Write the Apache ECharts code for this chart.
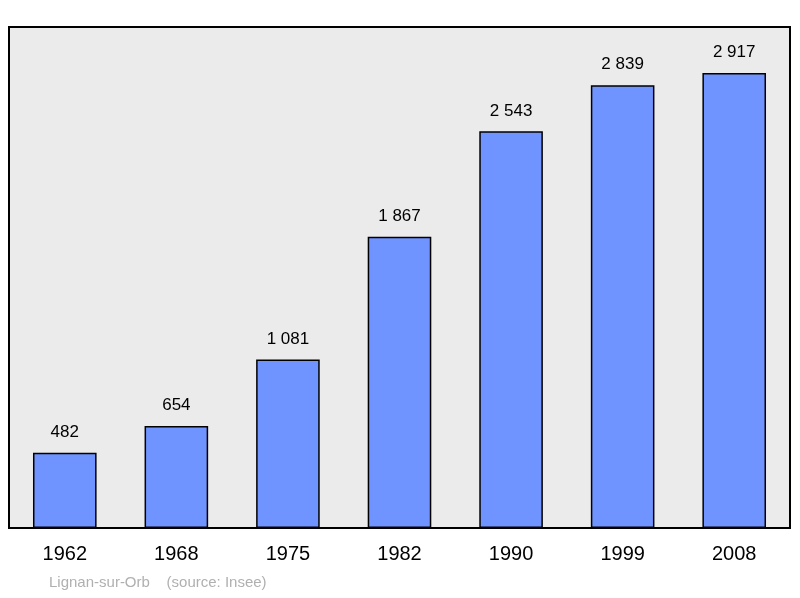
<!DOCTYPE html>
<html lang="fr">
<head>
<meta charset="UTF-8" />
<title>Lignan-sur-Orb</title>
<style>
  * { margin: 0; padding: 0; }
  #chart { width: 800px; height: 598px; background: #fff; }
</style>
</head>
<body>
<div id="chart"></div>
<script src="https://cdn.jsdelivr.net/npm/echarts@6/dist/echarts.min.js"></script>
<script>
const years = ['1962', '1968', '1975', '1982', '1990', '1999', '2008']
const population = [482, 654, 1081, 1867, 2543, 2839, 2917]

// espace comme séparateur de milliers
const fmt = v => String(v).replace(/\B(?=(\d{3})+(?!\d))/g, ' ')

const chart = echarts.init(document.getElementById('chart'))
chart.setOption({
  animation: false,
  textStyle: { fontFamily: 'Liberation Sans, Arial, sans-serif' },
  grid: {
    left: 9, right: 10, top: 27, bottom: 70,
    show: true,
    backgroundColor: '#ebebeb',
    borderColor: '#000',
    borderWidth: 2
  },
  xAxis: {
    type: 'category',
    data: years,
    axisLine: { show: false },
    axisTick: { show: false },
    axisLabel: { color: '#000', fontSize: 20, margin: 16 }
  },
  yAxis: {
    type: 'value',
    min: 0,
    max: 3212,
    show: false
  },
  series: [{
    type: 'bar',
    data: population,
    barWidth: '57%',
    itemStyle: { color: '#7094ff', borderColor: '#000', borderWidth: 1.5 },
    label: {
      show: true,
      position: 'top',
      distance: 12,
      color: '#000',
      fontSize: 17,
      formatter: p => fmt(p.value)
    }
  }],
  graphic: [{
    type: 'text',
    left: 49,
    top: 575,
    style: { text: 'Lignan-sur-Orb    (source: Insee)', fill: '#b0b0b0', fontSize: 15, fontFamily: 'Liberation Sans, Arial, sans-serif' }
  }]
})
</script>
</body>
</html>
